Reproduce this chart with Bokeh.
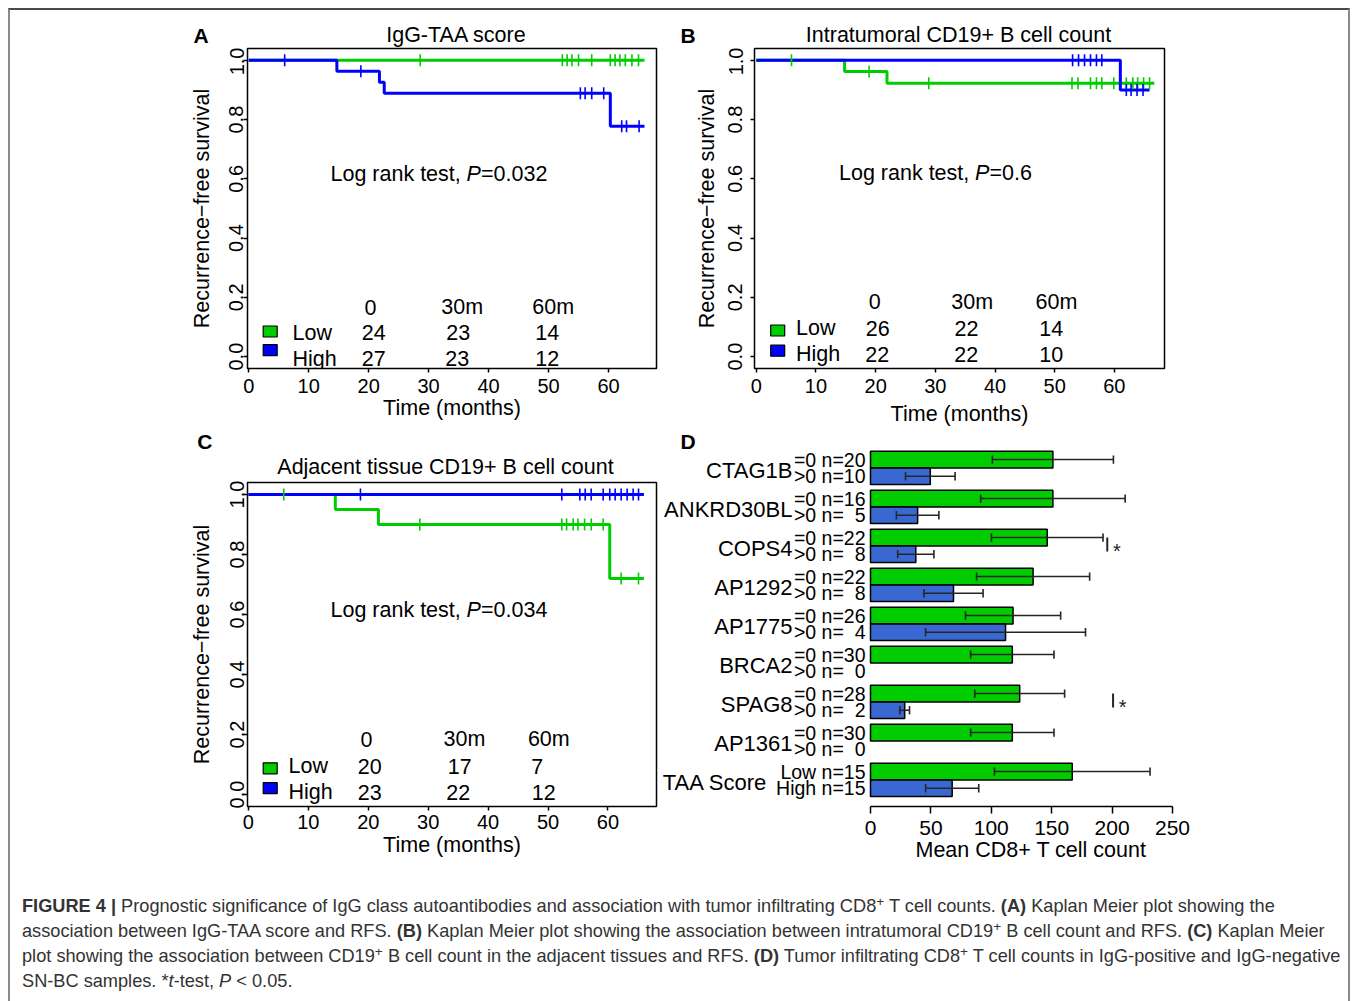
import numpy as np
from bokeh.plotting import figure
from bokeh.models import Range1d, FixedTicker, Label, Div, NumeralTickFormatter, Title
from bokeh.layouts import row, column
from bokeh.embed import file_html
from bokeh.resources import INLINE
from bokeh.core.properties import value

FONT = "Liberation Sans"
KM_GREEN = "#00CD00"
KM_BLUE = "#0000FF"
BAR_GREEN = "#00CC00"
BAR_BLUE = "#3A68D2"
NBSP = "\u00a0"
YBIAS = 2.5  # px: Label "middle" baseline correction so the cap centre sits on target

# ---------------- data ----------------
risk_times = ["0", "30m", "60m"]
risk_groups = ["Low", "High"]
km_xticks = [0, 10, 20, 30, 40, 50, 60]
km_yticks = [0.0, 0.2, 0.4, 0.6, 0.8, 1.0]

# Panel A : IgG-TAA score
a_title = "IgG-TAA score"
a_low_t = [0.0, 66.0]
a_low_s = [1.0, 1.0]
a_low_cens = [28.6, 52.3, 53.1, 53.9, 55.0, 57.2, 60.3, 61.1, 61.9, 62.8, 63.9, 65.0]
a_high_t = [0.0, 14.7, 21.8, 22.6, 60.3, 66.0]
a_high_s = [1.0, 0.963, 0.926, 0.889, 0.778, 0.778]
a_high_cens = [6.0, 18.7, 55.3, 56.1, 57.2, 59.2, 62.2, 63.0, 65.1]
a_risk_low = [24, 23, 14]
a_risk_high = [27, 23, 12]
a_pval = "0.032"

# Panel B : Intratumoral CD19+ B cell count
b_title = "Intratumoral CD19+ B cell count"
b_low_t = [0.0, 14.8, 21.9, 66.7]
b_low_s = [1.0, 0.962, 0.923, 0.923]
b_low_cens = [5.9, 18.9, 28.9, 52.9, 53.9, 56.0, 57.0, 57.9, 59.9, 62.0, 63.1, 63.9, 64.9, 65.9]
b_high_t = [0.0, 61.0, 65.9]
b_high_s = [1.0, 0.9, 0.9]
b_high_cens = [53.0, 54.0, 55.0, 56.0, 57.0, 57.9, 62.0, 62.8, 63.8, 64.8]
b_risk_low = [26, 22, 14]
b_risk_high = [22, 22, 10]
b_pval = "0.6"

# Panel C : Adjacent tissue CD19+ B cell count
c_title = "Adjacent tissue CD19+ B cell count"
c_low_t = [0.0, 14.5, 21.7, 60.3, 66.0]
c_low_s = [1.0, 0.95, 0.9, 0.72, 0.72]
c_low_cens = [5.9, 28.6, 52.3, 53.1, 54.2, 55.0, 56.1, 57.2, 59.2, 62.2, 65.1]
c_high_t = [0.0, 66.0]
c_high_s = [1.0, 1.0]
c_high_cens = [18.7, 52.3, 55.3, 56.2, 57.2, 59.2, 60.3, 61.2, 62.2, 63.2, 64.2, 65.1]
c_risk_low = [20, 17, 7]
c_risk_high = [23, 22, 12]
c_pval = "0.034"

# Panel D : mean CD8+ T cell count
d_groups = ["CTAG1B", "ANKRD30BL", "COPS4", "AP1292", "AP1775", "BRCA2", "SPAG8", "AP1361", "TAA Score"]
d_neg_prefix = ["=0"] * 8 + ["Low"]
d_pos_prefix = [">0"] * 8 + ["High"]
d_neg_n = [20, 16, 22, 22, 26, 30, 28, 30, 15]
d_pos_n = [10, 5, 8, 8, 4, 0, 2, 0, 15]
d_neg_mean = [151.0, 151.0, 146.3, 134.6, 118.0, 117.4, 123.5, 117.4, 167.0]
d_neg_se = [50.1, 59.8, 46.2, 46.8, 39.4, 34.5, 37.2, 34.5, 64.4]
d_pos_mean = [49.5, 39.0, 37.5, 68.7, 111.8, 0.0, 28.3, 0.0, 67.6]
d_pos_se = [20.5, 17.6, 15.0, 24.5, 66.2, 0.0, 4.0, 0.0, 22.0]
d_sig_groups = ["COPS4", "SPAG8"]
d_sig_x = [196.0, 200.8]
d_xticks = [0, 50, 100, 150, 200, 250]
d_xlabel = "Mean CD8+ T cell count"

caption_lines = [
    "<b>FIGURE 4 |</b> Prognostic significance of IgG class autoantibodies and association with tumor infiltrating CD8<sup>+</sup> T cell counts. <b>(A)</b> Kaplan Meier plot showing the",
    "association between IgG-TAA score and RFS. <b>(B)</b> Kaplan Meier plot showing the association between intratumoral CD19<sup>+</sup> B cell count and RFS. <b>(C)</b> Kaplan Meier",
    "plot showing the association between CD19<sup>+</sup> B cell count in the adjacent tissues and RFS. <b>(D)</b> Tumor infiltrating CD8<sup>+</sup> T cell counts in IgG-positive and IgG-negative",
    "SN-BC samples. *<i>t</i>-test, <i>P</i> &lt; 0.05.",
]


# ---------------- helpers ----------------
def slabel(p, frame, px, py, text, size="21.5px", align="left", style="normal", xoff=0):
    """Label positioned in screen pixels relative to the plot frame (page coordinates given)."""
    fl, ft, fr, fb = frame
    p.add_layout(Label(x=px - fl, y=fb - (py + YBIAS), x_units="screen", y_units="screen",
                       text=text, x_offset=xoff, text_font=FONT,
                       text_font_size=size, text_font_style=style, text_align=align,
                       text_baseline="middle", text_color="black"))


def header_fig(x0, y0, w, h, items):
    """A strip holding panel letters and titles above the panels."""
    p = figure(width=w, height=h, x_range=Range1d(x0, x0 + w), y_range=Range1d(y0 + h, y0),
               output_backend="svg", toolbar_location=None, min_border=0,
               x_axis_location=None, y_axis_location=None)
    p.xgrid.visible = False
    p.ygrid.visible = False
    p.outline_line_color = None
    for x, y, text, size, style, align in items:
        p.text(x=[x], y=[y], text=[text], text_font=value(FONT), text_font_size=size,
               text_font_style=style, text_align=align, text_baseline="middle", text_color="black")
    return p


def step_value(t, s, c):
    i = np.searchsorted(np.asarray(t), c, side="right") - 1
    return float(s[i])


def km_panel(curves, risk_low, risk_high, pval, L):
    x0, y0, w, h = L["box"]
    fr_ = L["frame"]
    fl, ft, fr, fb = fr_
    xs, xe = L["xr"]
    ys, ye = -0.04, 1.04
    p = figure(width=w, height=h, x_range=Range1d(xs, xe), y_range=Range1d(ys, ye),
               output_backend="svg", toolbar_location=None,
               min_border_left=fl - x0, min_border_right=x0 + w - fr,
               min_border_top=ft - y0, min_border_bottom=y0 + h - fb)
    p.xgrid.grid_line_color = None
    p.ygrid.grid_line_color = None
    p.outline_line_color = "black"
    p.outline_line_width = 1.5
    p.outline_line_alpha = 1.0

    p.xaxis.ticker = FixedTicker(ticks=km_xticks)
    p.yaxis.ticker = FixedTicker(ticks=km_yticks)
    p.yaxis.formatter = NumeralTickFormatter(format="0.0")
    p.yaxis.major_label_orientation = "vertical"
    p.axis.axis_line_color = None
    p.axis.minor_tick_line_color = None
    p.axis.major_tick_line_color = "black"
    p.axis.major_tick_line_width = 1.5
    p.axis.major_tick_in = 0
    p.axis.major_tick_out = 4
    p.axis.major_label_text_font = FONT
    p.axis.major_label_text_font_size = "20px"
    p.axis.major_label_text_color = "black"
    p.axis.axis_label_text_font = FONT
    p.axis.axis_label_text_font_size = "21.5px"
    p.axis.axis_label_text_font_style = "normal"
    p.axis.axis_label_text_color = "black"
    p.xaxis.axis_label = "Time (months)"
    p.yaxis.axis_label = "Recurrence\u2212free survival"
    p.xaxis.major_label_standoff = L["xls"]
    p.xaxis.axis_label_standoff = L["xas"]
    p.yaxis.major_label_standoff = L["yls"]
    p.yaxis.axis_label_standoff = L["yas"]

    for t, s, cens, color in curves:
        p.step(t, s, mode="after", line_color=color, line_width=3)
    for t, s, cens, color in curves:
        cy = [step_value(t, s, c) for c in cens]
        p.scatter(cens, cy, marker="dash", angle=np.pi / 2, size=12,
                  line_color=color, line_width=1.6)

    # log rank text
    px_, py_ = L["pv"]
    slabel(p, fr_, px_, py_, "Log rank test, ")
    slabel(p, fr_, px_, py_, "P", style="italic", xoff=136)
    slabel(p, fr_, px_, py_, "=" + pval, xoff=150.5)

    # number at risk table
    for hx, txt in zip(L["head_x"], risk_times):
        slabel(p, fr_, hx, L["head_y"], txt, align="center")
    for nx, n in zip(L["low_x"], risk_low):
        slabel(p, fr_, nx, L["low_y"], str(n), align="center")
    for nx, n in zip(L["high_x"], risk_high):
        slabel(p, fr_, nx, L["high_y"], str(n), align="center")
    slabel(p, fr_, L["lab_x"], L["low_y"], risk_groups[0])
    slabel(p, fr_, L["lab_x"], L["high_y"], risk_groups[1])

    def X(px):
        return xs + (px - fl) * (xe - xs) / (fr - fl)

    def Y(py):
        return ye - (py - ft) * (ye - ys) / (fb - ft)

    p.rect(x=[X(L["sq_x"])] * 2, y=[Y(L["sq_y"][0]), Y(L["sq_y"][1])],
           width=14, height=11, width_units="screen", height_units="screen",
           fill_color=[KM_GREEN, KM_BLUE], line_color="black", line_width=1.2)
    return p


LA = dict(box=(10, 47, 668, 381), frame=(247, 48, 656, 374), xr=(-0.2, 68.0),
          pv=(330, 176.5),
          head_y=310, low_y=335.5, high_y=361.5,
          head_x=[370, 461.7, 552.7], low_x=[373.3, 457.7, 546.7], high_x=[373.3, 456.7, 546.7],
          lab_x=292, sq_x=269.7, sq_y=(336.3, 355.3),
          xls=6, xas=0, yls=0, yas=13)
LB = dict(box=(678, 47, 670, 381), frame=(754, 48, 1164, 374), xr=(-0.3, 68.4),
          pv=(838.5, 175.8),
          head_y=304.7, low_y=331, high_y=357.2,
          head_x=[874.3, 971.7, 1056], low_x=[877.3, 966, 1050.7], high_x=[876.7, 965.7, 1050.7],
          lab_x=795.5, sq_x=777.2, sq_y=(335.3, 355.8),
          xls=6, xas=6, yls=8, yas=7)
LC = dict(box=(10, 480, 650, 390), frame=(247, 482, 656, 806), xr=(-0.15, 68.1),
          pv=(330, 606.7),
          head_y=736.3, low_y=763, high_y=789.2,
          head_x=[366, 464, 548.3], low_x=[369.3, 459.3, 536.7], high_x=[369.3, 457.7, 543.3],
          lab_x=288, sq_x=269.7, sq_y=(767.8, 787.7),
          xls=4, xas=1, yls=0, yas=13)

pa = km_panel([(a_low_t, a_low_s, a_low_cens, KM_GREEN), (a_high_t, a_high_s, a_high_cens, KM_BLUE)],
              a_risk_low, a_risk_high, a_pval, LA)
pb = km_panel([(b_low_t, b_low_s, b_low_cens, KM_GREEN), (b_high_t, b_high_s, b_high_cens, KM_BLUE)],
              b_risk_low, b_risk_high, b_pval, LB)
pc = km_panel([(c_low_t, c_low_s, c_low_cens, KM_GREEN), (c_high_t, c_high_s, c_high_cens, KM_BLUE)],
              c_risk_low, c_risk_high, c_pval, LC)

hdr1 = header_fig(10, 10, 1338, 37, [
    (193, 35, "A", "21px", "bold", "left"),
    (456, 34, a_title, "21.5px", "normal", "center"),
    (680, 35, "B", "21px", "bold", "left"),
    (958, 34.5, b_title, "21.5px", "normal", "center"),
])
hdrC = header_fig(10, 428, 650, 52, [
    (196.7, 441, "C", "21px", "bold", "left"),
    (445, 466, c_title, "21.5px", "normal", "center"),
])

# ---------------- panel D ----------------
D_box = (660, 428, 688, 442)
D_frame = (662, 430, 1172, 806)
zero_px = 870.0
bar_px = 16.7          # bar thickness in px
pitch = 39.0 / bar_px  # group pitch in bar units
first_top_px = 450.7
dx0, dy0, dw, dh = D_box
fl, ft, fr, fb = D_frame
d_ppu = (fr - zero_px) / 250.0
xs_d = -(zero_px - fl) / d_ppu
ys_d = -(fb - first_top_px) / bar_px
ye_d = (first_top_px - ft) / bar_px

pd = figure(width=dw, height=dh, x_range=Range1d(xs_d, 250), y_range=Range1d(ys_d, ye_d),
            output_backend="svg", toolbar_location=None,
            min_border_left=fl - dx0, min_border_right=dx0 + dw - fr,
            min_border_top=ft - dy0, min_border_bottom=dy0 + dh - fb)
pd.xgrid.grid_line_color = None
pd.ygrid.grid_line_color = None
pd.outline_line_color = None
pd.yaxis.visible = False
pd.xaxis.ticker = FixedTicker(ticks=d_xticks)
pd.xaxis.bounds = (0, 250)
pd.xaxis.axis_line_color = "black"
pd.xaxis.axis_line_width = 1.5
pd.xaxis.major_tick_line_color = "black"
pd.xaxis.major_tick_line_width = 1.5
pd.xaxis.major_tick_in = 0
pd.xaxis.major_tick_out = 7
pd.xaxis.minor_tick_line_color = None
pd.xaxis.major_label_text_font = FONT
pd.xaxis.major_label_text_font_size = "21px"
pd.xaxis.major_label_text_color = "black"
pd.xaxis.major_label_standoff = 7
pd.add_layout(Title(text=d_xlabel, align="left", offset=915 - fl, text_font=FONT,
                    text_font_size="21.5px", text_font_style="normal", text_color="black",
                    standoff=0, vertical_align="top"), "below")

idx = np.arange(len(d_groups))
yg = -(idx * pitch + 0.5)
yb = -(idx * pitch + 1.5)
gc = -(idx * pitch + 1.0)

neg_mean = np.array(d_neg_mean)
neg_se = np.array(d_neg_se)
pos_mean = np.array(d_pos_mean)
pos_se = np.array(d_pos_se)
has_pos = np.array(d_pos_n) > 0

pd.hbar(y=yg, left=0, right=neg_mean, height=1.0, fill_color=BAR_GREEN,
        line_color="black", line_width=1.5)
pd.hbar(y=yb[has_pos], left=0, right=pos_mean[has_pos], height=1.0, fill_color=BAR_BLUE,
        line_color="black", line_width=1.5)

ERR = "#262626"
for yy, m, se, mask in [(yg, neg_mean, neg_se, np.ones(len(idx), bool)), (yb, pos_mean, pos_se, has_pos)]:
    yy, m, se = yy[mask], m[mask], se[mask]
    pd.segment(x0=m - se, x1=m + se, y0=yy, y1=yy, line_color=ERR, line_width=1.6)
    for xe_ in (m - se, m + se):
        pd.segment(x0=xe_, x1=xe_, y0=yy - 0.25, y1=yy + 0.25, line_color=ERR, line_width=1.6)

# significance markers
sig_idx = np.array([d_groups.index(g) for g in d_sig_groups])
sig_x = np.array(d_sig_x)
pd.segment(x0=sig_x, x1=sig_x, y0=gc[sig_idx] - 0.33, y1=gc[sig_idx] + 0.5,
           line_color=ERR, line_width=2)
pd.text(x=sig_x + 8, y=gc[sig_idx] - 0.3, text=["*"] * len(sig_x), text_font=value(FONT),
        text_font_size="20px", text_align="center", text_baseline="middle", text_color="#222222")


def nlabel(prefix, n):
    return f"{prefix} n=" + (str(n) if n >= 10 else NBSP + NBSP + str(n))


sub_y = list(yg) + list(yb)
sub_text = [nlabel(a, n) for a, n in zip(d_neg_prefix, d_neg_n)] + [nlabel(a, n) for a, n in zip(d_pos_prefix, d_pos_n)]
pd.text(x=[0.0] * len(sub_y), y=sub_y, text=sub_text, x_offset=-5,
        text_font=value(FONT), text_font_size="19.5px", text_align="right",
        text_baseline="middle", text_color="black")
pd.text(x=[0.0] * len(idx), y=list(gc - 3.0 / bar_px), text=d_groups,
        x_offset=[-103.0 if g == "TAA Score" else -78.0 for g in d_groups],
        text_font=value(FONT), text_font_size="22px", text_align="right",
        text_baseline="middle", text_color="black")
pd.text(x=[(680 - zero_px) / d_ppu], y=[ye_d - (441 - ft) / bar_px], text=["D"],
        text_font=value(FONT), text_font_size="21px", text_font_style="bold",
        text_align="left", text_baseline="middle", text_color="black")

# ---------------- caption ----------------
cap_html = ('<div style="font-family: \'Liberation Sans\', Arial, sans-serif; font-size: 18.2px; '
            'line-height: 25px; color: #333333; white-space: nowrap; padding: 18.5px 0 0 7px;">'
            + "<br>".join(caption_lines).replace("<sup>", '<sup style="font-size:0.75em; line-height:0; vertical-align: 0.45em;">')
            + "</div>")
cap = Div(text=cap_html, width=1338, height=123, styles={"overflow": "hidden"})

top_block = column(row(hdr1), row(pa, pb))
bottom_block = row(column(row(hdrC), row(pc)), column(pd))
layout = column(top_block, bottom_block, cap,
                margin=(8, 0, 0, 8), width=1342,
                styles={"border-top": "2px solid #4a4a4a", "border-left": "2px solid #8a8a8a",
                        "border-right": "2px solid #8a8a8a"})

open("out.html", "w").write(file_html(layout, INLINE))
